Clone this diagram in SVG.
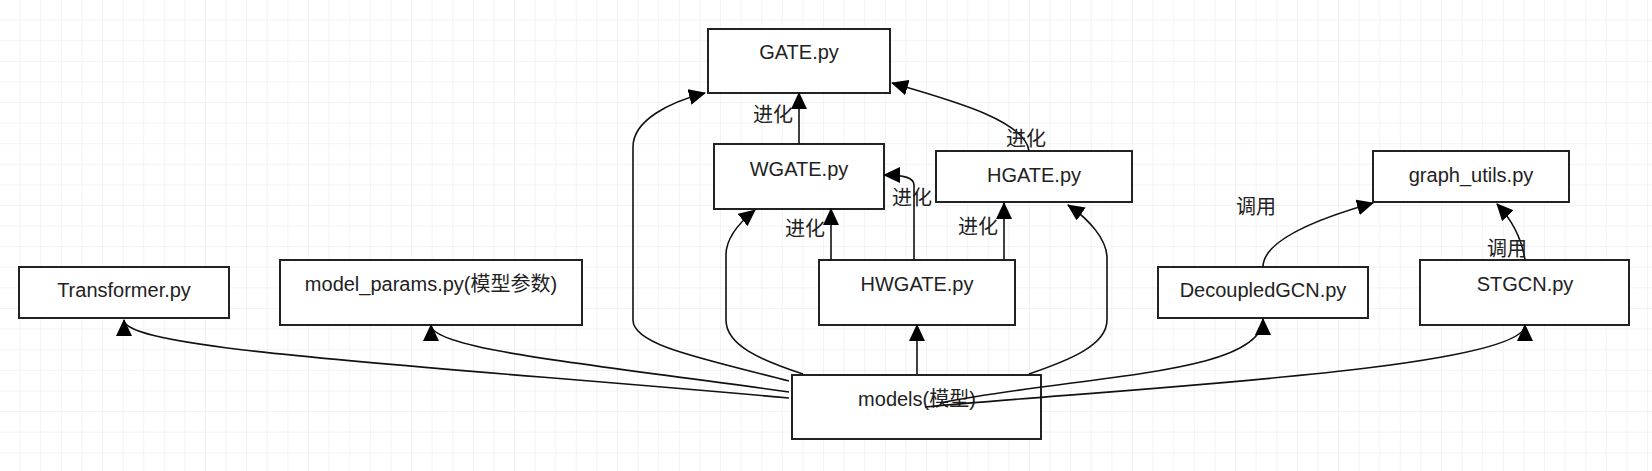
<svg xmlns="http://www.w3.org/2000/svg" width="1652" height="471" viewBox="0 0 1652 471">
<style>
.n rect{fill:#fff;stroke:#222;stroke-width:2}
.n text,.l{font-family:"Liberation Sans","Noto Sans CJK SC",sans-serif;font-size:20px;fill:#222;text-anchor:middle;dominant-baseline:middle}
.c path{fill:none;stroke:#111;stroke-width:1.6;marker-end:url(#a)}
</style>
<defs>
<pattern id="g" width="20.6" height="20.6" patternUnits="userSpaceOnUse"><path d="M20.6 0V20.6H0" fill="none" stroke="#e8e8e8" stroke-width="1"/></pattern>
<marker id="a" markerWidth="17" markerHeight="16" refX="16" refY="8" orient="auto" markerUnits="userSpaceOnUse"><path d="M0 0L17 8L0 16Z" fill="#000"/></marker>
</defs>
<rect width="1652" height="471" fill="#fff"/>
<rect width="1652" height="471" fill="url(#g)"/>
<g class="n" id="gate"><rect x="708" y="29" width="182" height="64"/><text x="799" y="54">GATE.py</text></g>
<g class="n" id="wgate"><rect x="714" y="144" width="170" height="65"/><text x="799" y="171">WGATE.py</text></g>
<g class="n" id="hgate"><rect x="936" y="151" width="196" height="51"/><text x="1034" y="177">HGATE.py</text></g>
<g class="n" id="hwgate"><rect x="819" y="260" width="196" height="65"/><text x="917" y="286">HWGATE.py</text></g>
<g class="n" id="models"><rect x="792" y="375" width="249" height="64"/><text x="917" y="401">models(模型)</text></g>
<g class="n" id="transformer"><rect x="19" y="267" width="210" height="51"/><text x="124" y="292">Transformer.py</text></g>
<g class="n" id="params"><rect x="280" y="260" width="302" height="65"/><text x="431" y="286">model_params.py(模型参数)</text></g>
<g class="n" id="dgcn"><rect x="1158" y="267" width="210" height="51"/><text x="1263" y="292">DecoupledGCN.py</text></g>
<g class="n" id="gutils"><rect x="1373" y="151" width="196" height="51"/><text x="1471" y="177">graph_utils.py</text></g>
<g class="n" id="stgcn"><rect x="1420" y="260" width="209" height="65"/><text x="1525" y="286">STGCN.py</text></g>
<g class="c">
<path d="M789 398C420 365 124 350 124 320"/>
<path d="M789 392C600 365 431 350 431 325"/>
<path d="M789 381C700 358 633 345 633 320L633 147C633 120 670 102 705 93"/>
<path d="M803 374C760 360 726 345 726 320L726 255C726 238 740 222 755 210"/>
<path d="M917 374L917 325"/>
<path d="M1029 374C1070 360 1107 345 1107 320L1107 258C1107 240 1090 220 1068 205"/>
<path d="M940 403C1080 375 1263 375 1263 319"/>
<path d="M925 407C1100 390 1525 370 1525 325"/>
<path d="M799 144L799 93"/>
<path d="M1029 151C1025 120 950 100 892 83"/>
<path d="M914 260L914 185C914 178 905 175 884 175"/>
<path d="M831 260L831 209"/>
<path d="M1004 260L1004 203"/>
<path d="M1263 267C1263 240 1320 218 1373 203"/>
<path d="M1525 260C1522 240 1512 220 1497 204"/>
</g>
<g id="labels">
<text class="l" x="773" y="117">进化</text>
<text class="l" x="1026" y="141">进化</text>
<text class="l" x="912" y="200">进化</text>
<text class="l" x="805" y="231">进化</text>
<text class="l" x="978" y="229">进化</text>
<text class="l" x="1256" y="209">调用</text>
<text class="l" x="1507" y="251">调用</text>
</g>
</svg>
